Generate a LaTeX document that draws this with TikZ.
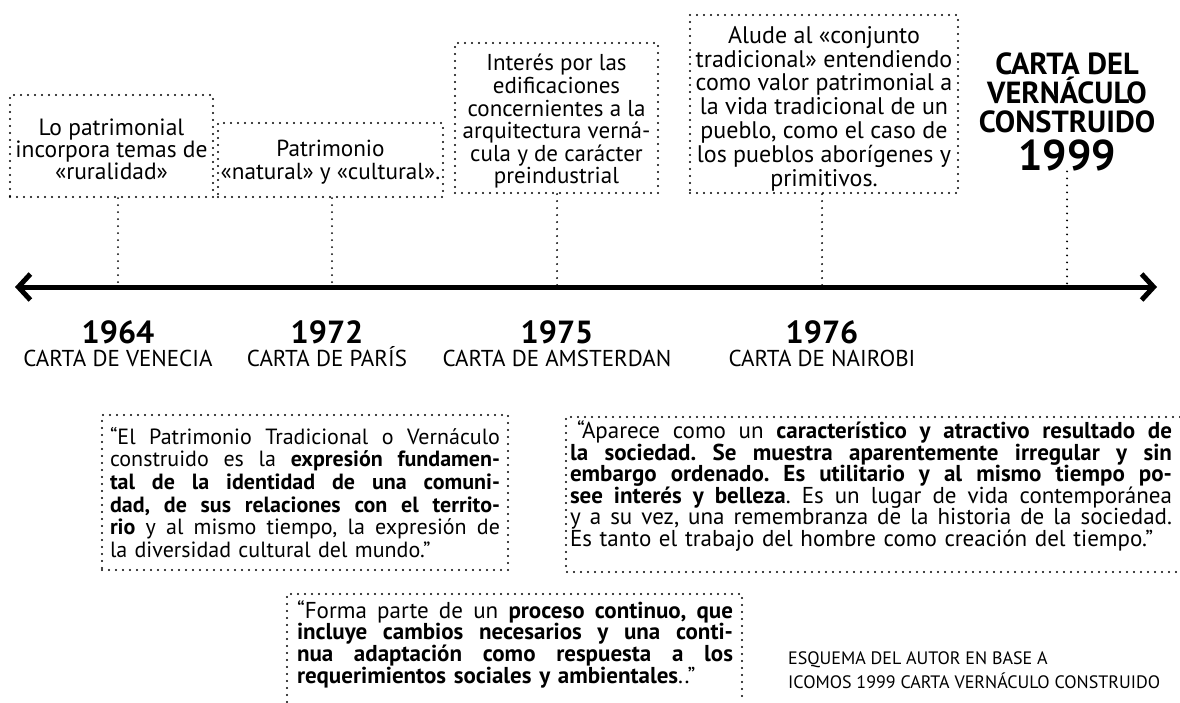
\documentclass[tikz,border=0pt]{standalone}
\usepackage{fontspec}
\setmainfont{PT Sans}
\usetikzlibrary{arrows.meta,positioning}
\lineskiplimit=-100pt
\frenchspacing
\tikzset{
  punteado/.style={line width=2.2pt,line cap=round,dash pattern=on 0pt off 7pt},
  marco/.style={draw,punteado,inner sep=0pt},
  nota/.style={align=center,inner sep=0pt,font=\fontsize{23}{22.6}\selectfont},
  cita/.style={inner sep=0pt,font=\fontsize{22}{22.7}\selectfont},
  anio/.style={font=\bfseries\fontsize{32}{32}\selectfont,inner sep=0pt},
  carta/.style={font=\fontsize{23}{23}\selectfont,inner sep=0pt,text height=16pt,text depth=0pt},
}
% renglon justificado a todo el ancho
\newcommand{\renglon}[1]{\hbox to\linewidth{\spaceskip=.22em plus 1fil\relax#1}\newline}

\begin{document}
\begin{tikzpicture}[x=1pt,y=-1pt]
\path[use as bounding box] (0,0) rectangle (1180,702);
% puntos sobre la linea de tiempo
\coordinate (izq) at (15,287);
\coordinate (der) at (1157,287);
\coordinate (t64) at (118,287);
\coordinate (t72) at (332,287);
\coordinate (t75) at (557,287);
\coordinate (t76) at (822,287);
\coordinate (t99) at (1067,287);

% notas de cada carta
\node[marco,minimum width=203pt,minimum height=102pt] (n64) at (111.5,146) {};
\node[nota,font=\fontsize{23.5}{22}\selectfont] (x64) at ([yshift=-3pt]n64) {Lo patrimonial\\incorpora temas de\\«ruralidad»};
\node[marco,minimum width=225pt,minimum height=74pt] (n72) at (330.5,160) {};
\node[nota,font=\fontsize{23.2}{23}\selectfont] (x72) at ([yshift=-2pt]n72) {Patrimonio\\«natural» y «cultural».};
\node[marco,minimum width=203pt,minimum height=150pt] (n75) at (556.5,118) {};
\node[nota] (x75) at ([yshift=-3.5pt]n75) {Interés por las\\edificaciones\\concernientes a la\\arquitectura verná-\\cula y de carácter\\preindustrial};
\node[marco,minimum width=268pt,minimum height=178pt] (n76) at (824,104) {};
\node[nota,font=\fontsize{24}{23.8}\selectfont] (x76) at ([yshift=-4.5pt]n76) {Alude al «conjunto\\tradicional» entendiendo\\como valor patrimonial a\\la vida tradicional de un\\pueblo, como el caso de\\los pueblos aborígenes y\\primitivos.};
\node[font=\bfseries\fontsize{30.5}{29}\selectfont,align=center,inner sep=0pt] (n99) at (1067,112) {CARTA DEL\\VERNÁCULO\\CONSTRUIDO\\[9pt]{\fontsize{43}{40}\selectfont 1999}};

\foreach \n/\t in {n64/t64,n72/t72,n75/t75,n76/t76,n99/t99}
  \draw[punteado] (\n.south -| \t) -- (\t);

\draw[line width=5pt,{Straight Barb[length=12pt,width=26pt]}-{Straight Barb[length=12pt,width=26pt]}] (izq) -- (der);

% anios
\node[anio] (a64) at (118,332) {1964};
\node[carta] (c64) [below=6pt of a64] {CARTA DE VENECIA};
\node[anio] (a72) at (327,332) {1972};
\node[carta] (c72) [below=6pt of a72] {CARTA DE PARÍS};
\node[anio] (a75) at (557,332) {1975};
\node[carta] (c75) [below=6pt of a75] {CARTA DE AMSTERDAN};
\node[anio] (a76) at (822,332) {1976};
\node[carta] (c76) [below=6pt of a76] {CARTA DE NAIROBI};

% citas
\node[cita,draw,punteado,text width=390pt,inner xsep=8pt,minimum height=155pt] (q1) at (305,492.5) {%
\renglon{“El Patrimonio Tradicional o Vernáculo}
\renglon{construido es la \textbf{expresión fundamen-}}
\renglon{\textbf{tal de la identidad de una comuni-}}
\renglon{\textbf{dad, de sus relaciones con el territo-}}
\renglon{\textbf{rio} y al mismo tiempo, la expresión de}
la diversidad cultural del mundo.”};

\node[cita,font=\fontsize{23}{21.6}\selectfont,text width=602pt] (q2) at (871,486) {%
\renglon{\hspace{7pt}“Aparece como un \textbf{característico y atractivo resultado de}}
\renglon{\textbf{la sociedad. Se muestra aparentemente irregular y sin}}
\renglon{\textbf{embargo ordenado. Es utilitario y al mismo tiempo po-}}
\renglon{\textbf{see interés y belleza}. Es un lugar de vida contemporánea}
\renglon{y a su vez, una remembranza de la historia de la sociedad.}
Es tanto el trabajo del hombre como creación del tiempo.”};
\draw[punteado] (1180,417) -- (566,417) -- (566,572) -- (1180,572);

\node[cita,font=\fontsize{23}{21.7}\selectfont,text width=436pt] (q3) at (515,644) {%
\renglon{“Forma parte de un \textbf{proceso continuo, que}}
\renglon{\textbf{incluye cambios necesarios y una conti-}}
\renglon{\textbf{nua adaptación como respuesta a los}}
\textbf{requerimientos sociales y ambientales}..”};
\draw[punteado] (287,702) -- (287,594) -- (742,594) -- (742,702);

\node[anchor=west,align=left,inner sep=0pt,font=\fontsize{18}{24}\selectfont] (fuente) at (788,670) {ESQUEMA DEL AUTOR EN BASE A\\ICOMOS 1999 CARTA VERNÁCULO CONSTRUIDO};
\end{tikzpicture}
\end{document}
